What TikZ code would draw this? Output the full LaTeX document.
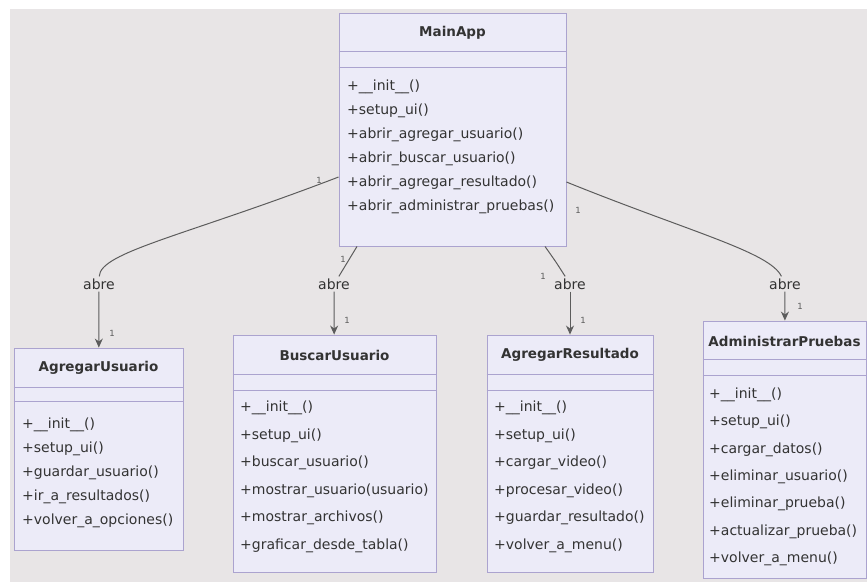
\documentclass[tikz,border=0pt]{standalone}
\usepackage{fontspec}
\setmainfont{DejaVu Sans}
\usetikzlibrary{arrows.meta}
\definecolor{bgc}{HTML}{E8E5E6}
\definecolor{boxfill}{HTML}{ECEBF8}
\definecolor{boxdraw}{HTML}{ABA3CF}
\definecolor{txt}{HTML}{333333}
\definecolor{edgec}{HTML}{5C5C5C}
\tikzset{
  cls/.style={draw=boxdraw, fill=boxfill, line width=0.9pt, inner sep=0pt},
  sepl/.style={draw=boxdraw, line width=0.9pt},
  meth/.style={anchor=west, inner sep=0pt, text=txt, font=\fontsize{14}{16}\selectfont},
  ttl/.style={inner sep=0pt, text=txt, font=\fontsize{13.5}{16}\selectfont\bfseries},
  lbl/.style={fill=bgc, inner sep=2pt, text=txt, font=\fontsize{14}{16}\selectfont},
  mult/.style={inner sep=0pt, text=edgec, font=\fontsize{8.5}{9}\selectfont},
  edge/.style={draw=edgec, line width=1pt},
  arr/.style={-{Stealth[length=9pt,width=8pt]}}
}
\begin{document}
\begin{tikzpicture}[x=1pt,y=-1pt]
\useasboundingbox (0,0) rectangle (867,582);
\fill[bgc] (10,9) rectangle (867,582);

% MainApp
\node[cls, minimum width=227pt, minimum height=233pt] (main) at (452.5,129.5) {};
\node[ttl] (mainT) at (452.5,33) {MainApp};
\draw[sepl] (main.west |- 0,51) -- (main.east |- 0,51);
\draw[sepl] (main.west |- 0,67) -- (main.east |- 0,67);
\node[meth] (mm1) at (347,87) {+\_\_init\_\_()};
\node[meth] (mm2) at (347,111) {+setup\_ui()};
\node[meth] (mm3) at (347,135) {+abrir\_agregar\_usuario()};
\node[meth] (mm4) at (347,159) {+abrir\_buscar\_usuario()};
\node[meth] (mm5) at (347,183) {+abrir\_agregar\_resultado()};
\node[meth] (mm6) at (347,207) {+abrir\_administrar\_pruebas()};

% AgregarUsuario
\node[cls, minimum width=169pt, minimum height=202pt] (au) at (98.5,449) {};
\node[ttl] (auT) at (98.5,368) {AgregarUsuario};
\draw[sepl] (au.west |- 0,387) -- (au.east |- 0,387);
\draw[sepl] (au.west |- 0,401) -- (au.east |- 0,401);
\node[meth] (au1) at (22,425) {+\_\_init\_\_()};
\node[meth] (au2) at (22,449) {+setup\_ui()};
\node[meth] (au3) at (22,473) {+guardar\_usuario()};
\node[meth] (au4) at (22,497) {+ir\_a\_resultados()};
\node[meth] (au5) at (22,521) {+volver\_a\_opciones()};

% BuscarUsuario
\node[cls, minimum width=203pt, minimum height=237pt] (bu) at (334.5,453.5) {};
\node[ttl] (buT) at (334.5,355) {BuscarUsuario};
\draw[sepl] (bu.west |- 0,374) -- (bu.east |- 0,374);
\draw[sepl] (bu.west |- 0,390) -- (bu.east |- 0,390);
\node[meth] (bu1) at (240,408) {+\_\_init\_\_()};
\node[meth] (bu2) at (240,435.5) {+setup\_ui()};
\node[meth] (bu3) at (240,463) {+buscar\_usuario()};
\node[meth] (bu4) at (240,490.5) {+mostrar\_usuario(usuario)};
\node[meth] (bu5) at (240,518) {+mostrar\_archivos()};
\node[meth] (bu6) at (240,545.5) {+graficar\_desde\_tabla()};

% AgregarResultado
\node[cls, minimum width=166pt, minimum height=237pt] (ar) at (570,453.5) {};
\node[ttl] (arT) at (570,355) {AgregarResultado};
\draw[sepl] (ar.west |- 0,374) -- (ar.east |- 0,374);
\draw[sepl] (ar.west |- 0,390) -- (ar.east |- 0,390);
\node[meth] (ar1) at (494,408) {+\_\_init\_\_()};
\node[meth] (ar2) at (494,435.5) {+setup\_ui()};
\node[meth] (ar3) at (494,463) {+cargar\_video()};
\node[meth] (ar4) at (494,490.5) {+procesar\_video()};
\node[meth] (ar5) at (494,518) {+guardar\_resultado()};
\node[meth] (ar6) at (494,545.5) {+volver\_a\_menu()};

% AdministrarPruebas
\node[cls, minimum width=163pt, minimum height=257pt] (ap) at (784.5,449.5) {};
\node[ttl] (apT) at (784.5,341) {AdministrarPruebas};
\draw[sepl] (ap.west |- 0,359) -- (ap.east |- 0,359);
\draw[sepl] (ap.west |- 0,375) -- (ap.east |- 0,375);
\node[meth] (ap1) at (709,395) {+\_\_init\_\_()};
\node[meth] (ap2) at (709,422.3) {+setup\_ui()};
\node[meth] (ap3) at (709,449.6) {+cargar\_datos()};
\node[meth] (ap4) at (709,476.9) {+eliminar\_usuario()};
\node[meth] (ap5) at (709,504.2) {+eliminar\_prueba()};
\node[meth] (ap6) at (709,531.5) {+actualizar\_prueba()};
\node[meth] (ap7) at (709,558.8) {+volver\_a\_menu()};

% edge labels
\node[lbl] (l1) at (99,284) {abre};
\node[lbl] (l2) at (334,284) {abre};
\node[lbl] (l3) at (570,284) {abre};
\node[lbl] (l4) at (785,284) {abre};

% edges
\draw[edge] ([yshift=-47.5pt]main.west) .. controls (185,236) and (100,252) .. (l1);
\draw[edge,arr] (l1) -- (au);
\draw[edge] ([xshift=-95.5pt]main.south) .. controls (348,262) .. (l2);
\draw[edge,arr] (l2) -- (bu);
\draw[edge] ([xshift=92.5pt]main.south) .. controls (556,262) .. (l3);
\draw[edge,arr] (l3) -- (ar);
\draw[edge] ([yshift=-52.5pt]main.east) .. controls (690,232) and (770,252) .. (l4);
\draw[edge,arr] (l4) -- (ap);

% multiplicities
\node[mult] (m1s) at (319,180) {1};
\node[mult] (m1e) at (112,333) {1};
\node[mult] (m2s) at (343,259) {1};
\node[mult] (m2e) at (347,320) {1};
\node[mult] (m3s) at (543,276) {1};
\node[mult] (m3e) at (583,320) {1};
\node[mult] (m4s) at (578,210) {1};
\node[mult] (m4e) at (800,306) {1};
\end{tikzpicture}
\end{document}
